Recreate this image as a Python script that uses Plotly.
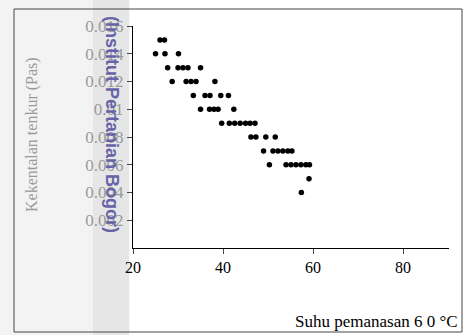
import plotly.graph_objects as go

# Data (temperature °C vs viscosity Pa.s)
temperature = [26, 27,
               25, 27.1, 30.1,
               27.7, 30, 31.1, 32.2, 35,
               28.7, 31.8, 32.9, 34, 38.2,
               33.4, 36, 37.1, 39.5, 41.2,
               35, 37, 38, 38.9, 42.4,
               39.7, 41.4, 42.6, 43.8, 45, 46, 47.1,
               46.2, 47.3, 49.5, 51.6,
               49, 51.1, 52.2, 53.3, 54.4, 55.3,
               50.3, 54, 55.1, 56.2, 57.3, 58.4, 59.2,
               59.1,
               57.4]
viscosity = [0.015, 0.015,
             0.014, 0.014, 0.014,
             0.013, 0.013, 0.013, 0.013, 0.013,
             0.012, 0.012, 0.012, 0.012, 0.012,
             0.011, 0.011, 0.011, 0.011, 0.011,
             0.010, 0.010, 0.010, 0.010, 0.010,
             0.009, 0.009, 0.009, 0.009, 0.009, 0.009, 0.009,
             0.008, 0.008, 0.008, 0.008,
             0.007, 0.007, 0.007, 0.007, 0.007, 0.007,
             0.006, 0.006, 0.006, 0.006, 0.006, 0.006, 0.006,
             0.005,
             0.004]

x_ticks = [20, 40, 60, 80]
y_ticks = [0.002, 0.004, 0.006, 0.008, 0.01, 0.012, 0.014, 0.016]
y_tick_text = ["0.002", "0.004", "0.006", "0.008", "0.01", "0.012", "0.014", "0.016"]

W, H = 469, 335
L, R, T, B = 133, 20, 26, 87
PW, PH = W - L - R, H - T - B


def px(x):
    return (x - L) / PW


def py(y):
    return (H - B - y) / PH


fig = go.Figure()
fig.add_trace(go.Scatter(
    x=temperature, y=viscosity, mode="markers",
    marker=dict(color="black", size=5.5),
    showlegend=False, hoverinfo="x+y",
))

shapes = [
    dict(type="rect", xref="paper", yref="paper", x0=px(0), x1=px(92.7), y0=py(H), y1=py(0),
         fillcolor="#f3f3f3", line=dict(width=0), layer="below"),
    dict(type="rect", xref="paper", yref="paper", x0=px(92.7), x1=px(129.3), y0=py(H), y1=py(0),
         fillcolor="#e6e6e6", line=dict(width=0), layer="below"),
    dict(type="rect", xref="paper", yref="paper", x0=px(14), x1=px(462), y0=py(332), y1=py(9),
         fillcolor="rgba(0,0,0,0)", line=dict(color="#444", width=1), layer="below"),
]

annotations = [
    dict(text="Suhu pemanasan 6 0 °C", xref="paper", yref="paper", x=px(460), y=py(321),
         xanchor="right", yanchor="middle", showarrow=False,
         font=dict(family="Liberation Serif", size=17, color="black")),
    dict(text="Kekentalan tenkur (Pas)", xref="paper", yref="paper", x=px(32), y=py(135),
         xanchor="center", yanchor="middle", textangle=-90, showarrow=False,
         font=dict(family="Liberation Serif", size=16, color="#9a9a9a")),
    dict(text="<b>(Institut Pertanian Bogor)</b>", xref="paper", yref="paper", x=px(112), y=py(124),
         xanchor="center", yanchor="middle", textangle=90, showarrow=False,
         font=dict(family="Liberation Sans", size=18, color="#6663a6")),
]

fig.update_layout(
    width=W, height=H, autosize=False,
    margin=dict(l=L, r=R, t=T, b=B, pad=0),
    paper_bgcolor="white", plot_bgcolor="white",
    shapes=shapes, annotations=annotations,
    xaxis=dict(range=[20, 90.2], tickvals=x_ticks, ticks="outside", ticklen=5,
               showline=True, linecolor="black", linewidth=1, showgrid=False, zeroline=False,
               tickfont=dict(family="Liberation Serif", size=16, color="black")),
    yaxis=dict(range=[0, 0.016], tickvals=y_ticks, ticktext=y_tick_text, ticks="outside",
               ticklen=5, showline=True, linecolor="black", linewidth=1, showgrid=False,
               zeroline=False,
               tickfont=dict(family="Liberation Serif", size=17, color="#9a9a9a")),
)

fig.write_html("out.html")
